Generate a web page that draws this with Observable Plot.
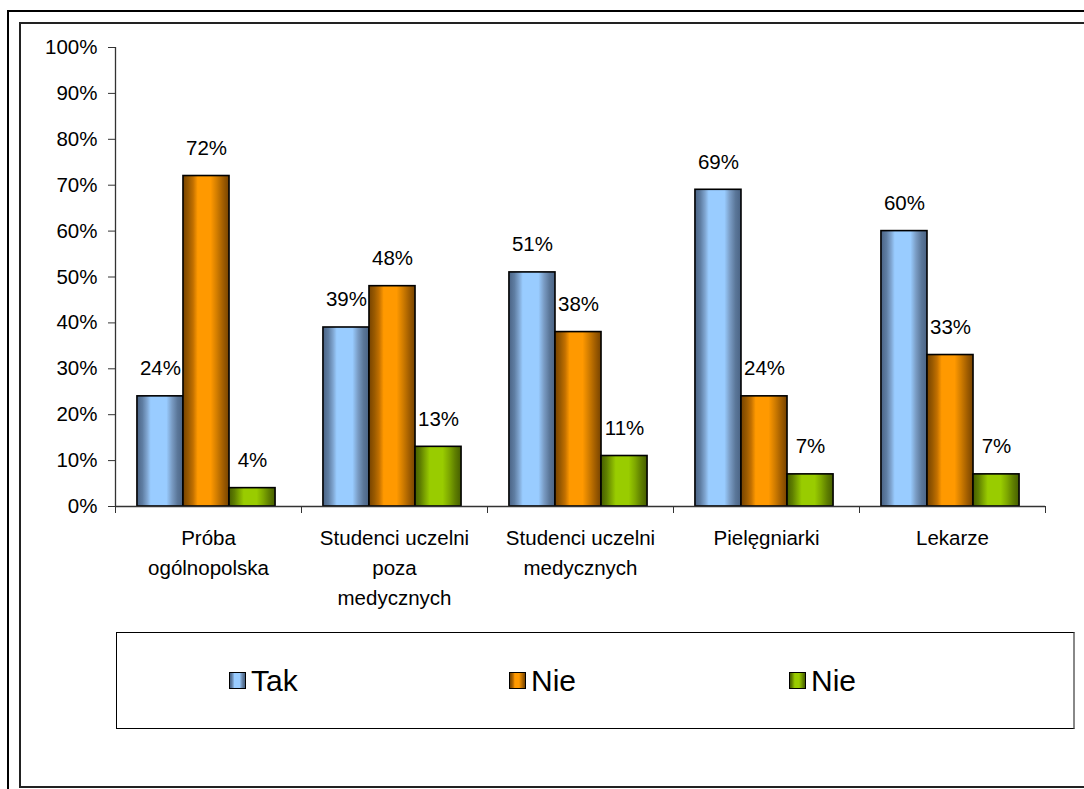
<!DOCTYPE html>
<html>
<head>
<meta charset="utf-8">
<script src="https://cdn.jsdelivr.net/npm/d3@7"></script>
<script src="https://cdn.jsdelivr.net/npm/@observablehq/plot@0.6"></script>
<style>
  html, body { margin: 0; padding: 0; background: #fff; overflow: hidden; width: 1084px; height: 789px; }
  body { position: relative; font-family: "Liberation Sans", Arial, sans-serif; }
  .frame-outer { position: absolute; left: 7px; top: 10px; width: 2000px; height: 2000px; border-left: 2px solid #000; border-top: 2px solid #000; }
  .frame-inner { position: absolute; left: 19px; top: 22px; width: 2000px; height: 762px; border: 2px solid #222; }
  #chart { position: absolute; left: 0; top: 0; }
  .legend { position: absolute; left: 116px; top: 632px; width: 959px; height: 97px; border: 1px solid #000; border-right: 2px solid #888; display: flex; align-items: center; padding-left: 112px; box-sizing: border-box; }
  .item { display: flex; align-items: center; width: 280px; font-size: 30px; color: #000; }
  .sw { width: 15px; height: 15px; border: 1.5px solid #000; margin-right: 5px; }
</style>
</head>
<body>
<div class="frame-outer"></div>
<div class="frame-inner"></div>
<div id="chart"></div>
<div class="legend" id="legend"></div>
<script>
const categories = ["Próba\nogólnopolska", "Studenci uczelni\npoza\nmedycznych", "Studenci uczelni\nmedycznych", "Pielęgniarki", "Lekarze"];
const seriesKeys = ["tak", "nie", "nie2"];
const seriesLabels = ["Tak", "Nie", "Nie"];
const tak = [24, 39, 51, 69, 60];
const nie = [72, 48, 38, 24, 33];
const nie2 = [4, 13, 11, 7, 7];
const yTicks = [0, 10, 20, 30, 40, 50, 60, 70, 80, 90, 100];

const gradients = {
  tak: [["0%", "#4a6384"], ["12%", "#5f7ea3"], ["22%", "#7fa5d0"], ["30%", "#99ccff"], ["64%", "#99ccff"], ["76%", "#7a9cc4"], ["88%", "#5b7799"], ["100%", "#4a6384"]],
  nie: [["0%", "#764300"], ["12%", "#9a5a00"], ["22%", "#c27000"], ["32%", "#ff9900"], ["60%", "#ff9900"], ["74%", "#d07c00"], ["87%", "#a25e00"], ["100%", "#764300"]],
  nie2: [["0%", "#465e00"], ["12%", "#5f7f00"], ["22%", "#7da600"], ["32%", "#99cc00"], ["60%", "#99cc00"], ["74%", "#7ea800"], ["87%", "#5f7f00"], ["100%", "#465e00"]]
};

const valuesByKey = {tak, nie, nie2};
const offset = 0.118, bw = 0.2475;
const data = [];
categories.forEach((c, i) => {
  seriesKeys.forEach((k, j) => {
    data.push({i, k, j, value: valuesByKey[k][i]});
  });
});

const font = "'Liberation Sans', Arial, sans-serif";
const chart = Plot.plot({
  width: 1084,
  height: 620,
  marginLeft: 115,
  marginRight: 39,
  marginTop: 47,
  marginBottom: 114,
  x: {domain: [0, 5], axis: null},
  y: {domain: [0, 100], axis: null, label: null},
  color: {type: "identity"},
  style: {fontFamily: font, fontSize: "20.5px", color: "#000", background: "transparent", overflow: "visible"},
  marks: [
    Plot.axisY({ticks: yTicks, tickFormat: d => d + "%", tickSize: 7, tickPadding: 11, fontSize: 20.5, stroke: "#333", fill: "#000", label: null}),
    Plot.ruleX([0], {stroke: "#333", strokeWidth: 1.3}),
    Plot.axisX({ticks: d3.range(0, categories.length + 1), tickFormat: () => "", tickSize: 7, stroke: "#333", label: null}),
    Plot.rectY(data, {
      x1: d => d.i + offset + bw * d.j,
      x2: d => d.i + offset + bw * (d.j + 1),
      y1: 0,
      y2: "value",
      fill: d => `url(#grad-${d.k})`,
      stroke: "#000",
      strokeWidth: 1.6
    }),
    Plot.ruleY([0], {stroke: "#333", strokeWidth: 1.3}),
    Plot.text(data, {
      x: d => d.i + offset + bw * (d.j + 0.5),
      y: "value",
      text: d => d.value + "%",
      lineAnchor: "bottom",
      dy: -21,
      fill: "#000",
      fontSize: 20.5
    }),
    Plot.text(categories, {
      x: (d, i) => i + 0.5,
      y: () => 0,
      text: d => d,
      lineAnchor: "top",
      dy: 17,
      lineHeight: 1.46,
      fill: "#000",
      fontSize: 20.5
    })
  ]
});

const defs = d3.select(chart).insert("defs", ":first-child");
for (const k of seriesKeys) {
  const g = defs.append("linearGradient").attr("id", `grad-${k}`).attr("x1", "0").attr("x2", "1").attr("y1", "0").attr("y2", "0");
  for (const [o, c] of gradients[k]) g.append("stop").attr("offset", o).attr("stop-color", c);
}
document.getElementById("chart").appendChild(chart);

const legend = document.getElementById("legend");
seriesKeys.forEach((k, j) => {
  const item = document.createElement("div");
  item.className = "item";
  const sw = document.createElement("div");
  sw.className = "sw";
  sw.style.background = `linear-gradient(to right, ${gradients[k].map(([o, c]) => c + " " + o).join(", ")})`;
  const label = document.createElement("span");
  label.textContent = seriesLabels[j];
  item.appendChild(sw);
  item.appendChild(label);
  legend.appendChild(item);
});
</script>
</body>
</html>
